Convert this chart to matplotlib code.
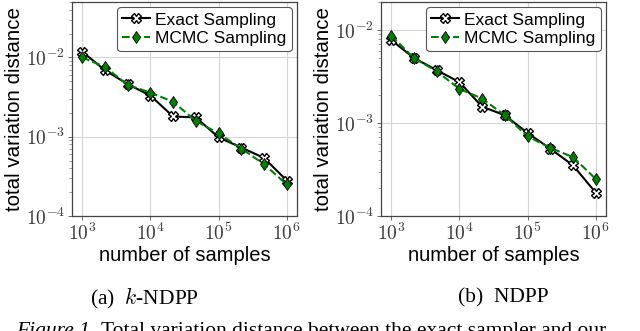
import matplotlib
matplotlib.use("Agg")
import matplotlib.pyplot as plt
from matplotlib.ticker import FuncFormatter, LogLocator, NullFormatter
import numpy as np

plt.rcParams['mathtext.fontset'] = 'cm'
plt.rcParams['font.family'] = ['Liberation Sans', 'DejaVu Sans']

n_samples = [1e3, 2.15e3, 4.64e3, 1e4, 2.15e4, 4.64e4, 1e5, 2.15e5, 4.64e5, 1e6]

kndpp_exact = [0.0118, 0.0069, 0.0046, 0.0033, 0.0018, 0.00175, 0.00098, 0.00073, 0.00054, 0.00028]
kndpp_mcmc = [0.0100, 0.0076, 0.0045, 0.0036, 0.00276, 0.00158, 0.00110, 0.00071, 0.00045, 0.00025]

ndpp_exact = [0.0078, 0.0050, 0.0037, 0.00275, 0.00150, 0.00121, 0.00078, 0.00053, 0.00035, 0.000178]
ndpp_mcmc = [0.0087, 0.0050, 0.0036, 0.00233, 0.00183, 0.00121, 0.00072, 0.00054, 0.00043, 0.00025]

series_labels = ['Exact Sampling', 'MCMC Sampling']
subcaptions = ['(a)  $k$-NDPP', '(b)  NDPP']
ylims = [(1e-4, 5e-2), (1e-4, 2e-2)]

W, H = 640, 331
fig = plt.figure(figsize=(6.4, 3.31), dpi=100)

def px_axes(l, r, t, b):
    return [l / W, (H - b) / H, (r - l) / W, (b - t) / H]

axes_px = [(72, 297, 2, 216), (381, 606, 2, 216)]
data = [(kndpp_exact, kndpp_mcmc), (ndpp_exact, ndpp_mcmc)]

fmt = FuncFormatter(lambda v, p: r'$10^{%d}$' % int(round(np.log10(v))))

for i, (box, (ex, mc)) in enumerate(zip(axes_px, data)):
    ax = fig.add_axes(px_axes(*box))
    ax.plot(n_samples, ex, color='black', lw=1.5, marker='X', ms=6.5,
            mfc='white', mec='black', mew=1.0, label=series_labels[0], zorder=3)
    ax.plot(n_samples, mc, color='green', lw=1.5, ls='--', marker='d', ms=6.5,
            mfc='green', mec='black', mew=0.6, label=series_labels[1], zorder=4)
    ax.set_xscale('log')
    ax.set_yscale('log')
    ax.set_ylim(*ylims[i])
    ax.set_xticks([1e3, 1e4, 1e5, 1e6])
    ax.set_yticks([1e-4, 1e-3, 1e-2])
    ax.xaxis.set_major_formatter(fmt)
    ax.yaxis.set_major_formatter(fmt)
    ax.xaxis.set_minor_locator(LogLocator(base=10, subs=np.arange(2, 10)))
    ax.xaxis.set_minor_formatter(NullFormatter())
    ax.yaxis.set_minor_formatter(NullFormatter())
    ax.tick_params(axis='both', which='major', labelsize=14, colors='#555555',
                   labelcolor='#3a3a3a', length=3, width=0.6, pad=2)
    ax.tick_params(axis='both', which='minor', colors='#777777', length=2, width=0.5)
    ax.grid(True, which='major', color='#d5d5d5', lw=0.8)
    for s in ax.spines.values():
        s.set_color('#444444')
        s.set_linewidth(0.9)
    ax.set_xlabel('number of samples', fontsize=14.5, labelpad=1)
    ax.set_ylabel('total variation distance', fontsize=14.8, labelpad=1)
    leg = ax.legend(loc='upper right', fontsize=12.5, frameon=True, fancybox=True,
                    edgecolor='#555555', framealpha=1.0, borderpad=0.3,
                    labelspacing=0.2, handlelength=1.6, handletextpad=0.3,
                    borderaxespad=0.3)
    leg.get_frame().set_linewidth(0.8)

fig.text(144 / W, (H - 298) / H, subcaptions[0], ha='center', va='center',
         fontsize=15.5, family='Liberation Serif')
fig.text(503 / W, (H - 298) / H, subcaptions[1], ha='center', va='center',
         fontsize=15.5, family='Liberation Serif')

cap_y = (H - 322) / H
t1 = fig.text(16 / W, cap_y, 'Figure 1.', ha='left', va='top', fontsize=15.5,
              family='Liberation Serif', style='italic')
fig.canvas.draw()
bb = t1.get_window_extent()
fig.text((bb.x1 + 6) / W, cap_y, 'Total variation distance between the exact sampler and our',
         ha='left', va='top', fontsize=15.5, family='Liberation Serif')

fig.savefig('out.png', dpi=100)
